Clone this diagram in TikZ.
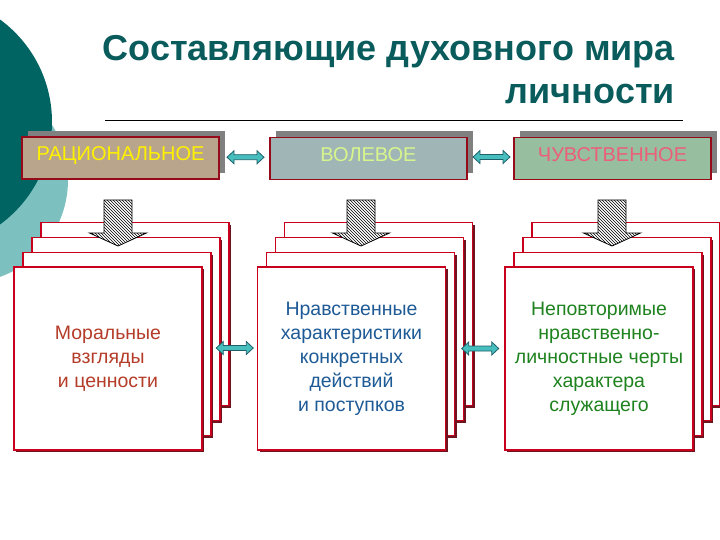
\documentclass[tikz,border=0pt]{standalone}
\usepackage{fontspec}
\setmainfont{Liberation Sans}
\usetikzlibrary{patterns,shadows,calc}
\definecolor{darkteal}{RGB}{0,100,98}
\definecolor{lightteal}{RGB}{125,192,192}
\definecolor{titleteal}{RGB}{10,92,92}
\definecolor{hdrred}{RGB}{150,10,25}
\definecolor{hgray}{RGB}{128,128,128}
\definecolor{tanfill}{RGB}{185,165,140}
\definecolor{bluefill}{RGB}{160,182,182}
\definecolor{sagefill}{RGB}{152,190,160}
\definecolor{volcol}{RGB}{215,245,140}
\definecolor{chucol}{RGB}{235,95,120}
\definecolor{stkred}{RGB}{200,0,30}
\definecolor{stkdark}{RGB}{110,20,30}
\definecolor{arrfill}{RGB}{70,190,190}
\definecolor{arrline}{RGB}{30,95,105}
\definecolor{txtred}{RGB}{180,60,40}
\definecolor{txtblue}{RGB}{30,90,150}
\definecolor{txtgreen}{RGB}{30,130,30}
\newcommand\dblarrowat[1]{%
  \draw[dblpath] (#1) ++(-18.5,0) -- ++(7,-6.5) -- ++(0,4) -- ++(23,0)
    -- ++(0,-4) -- ++(7,6.5) -- ++(-7,6.5) -- ++(0,-4) -- ++(-23,0)
    -- ++(0,4) -- cycle;}
\begin{document}
\begin{tikzpicture}[x=1pt,y=-1pt,
  hdr/.style={draw=hdrred, line width=1.8pt, minimum width=197pt, minimum height=42pt,
    inner sep=0pt, text depth=8pt, font=\fontsize{20}{24}\selectfont,
    drop shadow={fill=hgray, opacity=1, shadow xshift=6pt, shadow yshift=6pt}},
  stk/.style={draw=stkred, line width=1.5pt, fill=white, minimum width=188pt,
    minimum height=183pt, inner sep=0pt, align=center,
    font=\fontsize{19.5}{24}\selectfont,
    drop shadow={fill=stkdark, opacity=1, shadow xshift=2.2pt, shadow yshift=-2.2pt}},
  dblpath/.style={draw=arrline, fill=arrfill, line width=0.8pt, line join=miter},
  hatch/.style={draw=black, line width=0.8pt, preaction={fill=white},
    pattern=north west lines},
  titlefont/.style={font=\fontsize{36}{40}\selectfont\bfseries, text=titleteal,
    inner sep=0pt}
]
\useasboundingbox (0,0) rectangle (720,540);
\begin{scope}
\clip (0,0) rectangle (720,540);
\fill[lightteal] (-35,180) circle (103pt);
\fill[darkteal] (-75,122) circle (127pt);
\end{scope}

% title
\node[titlefont, anchor=base east] (t1) at (675,61) {Составляющие духовного мира};
\node[titlefont, anchor=base east] (t2) at (675,104) {личности};
\coordinate (l1) at (105,120);
\coordinate (l2) at (683,120);
\draw[black, line width=0.8pt] (l1) -- (l2);

% header boxes
\node[hdr, fill=tanfill, text=yellow] (h1) at (120.5,158) {РАЦИОНАЛЬНОЕ};
\node[hdr, fill=bluefill, text=volcol] (h2) at (368.5,158.5) {ВОЛЕВОЕ};
\node[hdr, fill=sagefill, text=chucol] (h3) at (612.5,158.5) {ЧУВСТВЕННОЕ};

\coordinate (a12) at ($(h1.east)!0.5!(h2.west)+(1,-1)$);
\coordinate (a23) at ($(h2.east)!0.5!(h3.west)+(1,-1.5)$);
\dblarrowat{a12}
\dblarrowat{a23}

% stacks left
\node[stk] (s1a) at (135,314) {};
\node[stk] (s1b) at (126,329) {};
\node[stk] (s1c) at (117,344) {};
\node[stk, text=txtred] (s1d) at (108,358.5) {Моральные\\взгляды\\и ценности};
% stacks middle
\node[stk] (s2a) at (378.5,314) {};
\node[stk] (s2b) at (369.5,329) {};
\node[stk] (s2c) at (360.5,344) {};
\node[stk, text=txtblue] (s2d) at (351.5,358.5) {Нравственные\\характеристики\\конкретных\\действий\\и поступков};
% stacks right
\node[stk] (s3a) at (626,314) {};
\node[stk] (s3b) at (617,329) {};
\node[stk] (s3c) at (608,344) {};
\node[stk, text=txtgreen] (s3d) at (599,358.5) {Неповторимые\\нравственно-\\личностные черты\\характера\\служащего};

% hatched down arrows
\foreach \cx/\nm in {118/d1, 361/d2, 612/d3}{
  \coordinate (\nm) at (\cx,200);
  \draw[hatch] (\nm) ++(-14,0) -- ++(28,0) -- ++(0,33) -- ++(14.5,0)
    -- ++(-28.5,13) -- ++(-28.5,-13) -- ++(14.5,0) -- cycle;
}

% lower double arrows
\coordinate (b12) at ($(s1d.east)!0.5!(s2d.west)+(5,-10.5)$);
\coordinate (b23) at ($(s2d.east)!0.5!(s3d.west)+(5,-10)$);
\dblarrowat{b12}
\dblarrowat{b23}
\end{tikzpicture}
\end{document}
